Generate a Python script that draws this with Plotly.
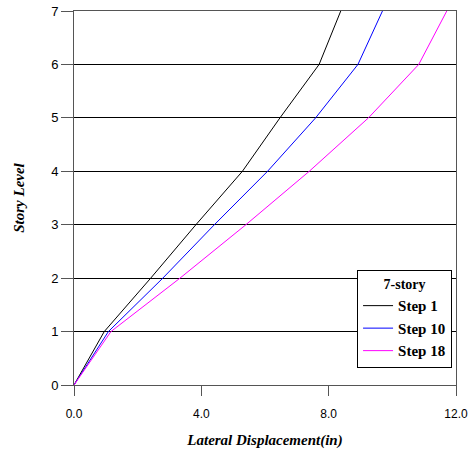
import plotly.graph_objects as go

story = [0, 1, 2, 3, 4, 5, 6, 7]
step1 = [0, 0.95, 2.41, 3.83, 5.29, 6.47, 7.70, 8.38]
step10 = [0, 1.08, 2.79, 4.41, 6.08, 7.59, 8.92, 9.69]
step18 = [0, 1.16, 3.33, 5.40, 7.39, 9.25, 10.83, 11.71]
names = ["Step 1", "Step 10", "Step 18"]
colors = ["#000000", "#0000ff", "#ff00ff"]
x_ticks = [0, 4, 8, 12]
y_ticks = [0, 1, 2, 3, 4, 5, 6, 7]

fig = go.Figure()
for name, vals, c in zip(names, [step1, step10, step18], colors):
    fig.add_trace(go.Scatter(x=vals, y=story, mode="lines", name="<b>" + name + "</b>",
                             line=dict(color=c, width=1)))

serif = "Liberation Serif, Times New Roman, serif"
sans = "Liberation Sans, Arial, sans-serif"

fig.update_layout(
    width=471, height=452,
    margin=dict(l=74, r=15, t=11, b=67),
    plot_bgcolor="white", paper_bgcolor="white",
    showlegend=True,
    legend=dict(
        x=0.741, y=0.307, xanchor="left", yanchor="top",
        bordercolor="black", borderwidth=1, bgcolor="white",
        font=dict(family=serif, size=15, color="black"),
        title=dict(text="<b>7-story</b>", side="top center",
                   font=dict(family=serif, size=14, color="black")),
        itemwidth=30, tracegroupgap=2,
    ),
    xaxis=dict(
        range=[0, 12], tickvals=x_ticks, ticktext=[f"{v:.1f}" for v in x_ticks],
        showgrid=False, zeroline=False, automargin=False,
        showline=True, linecolor="#555555", linewidth=1, mirror=True,
        ticks="outside", ticklen=10, tickcolor="#555555",
        ticklabelstandoff=8,
        tickfont=dict(family=sans, size=12, color="black"),
        title=dict(text="<b><i>Lateral Displacement(in)</i></b>",
                   font=dict(family=serif, size=15, color="black"), standoff=14),
    ),
    yaxis=dict(
        range=[0, 7], tickvals=y_ticks, automargin=False,
        showgrid=True, gridcolor="black", gridwidth=1, zeroline=False,
        showline=True, linecolor="#555555", linewidth=1, mirror=True,
        ticks="outside", ticklen=12, tickcolor="#555555",
        tickfont=dict(family=sans, size=13, color="black"),
        title=dict(text="<b><i>Story Level</i></b>",
                   font=dict(family=serif, size=15, color="black"), standoff=22),
    ),
)

fig.write_html("out.html")
